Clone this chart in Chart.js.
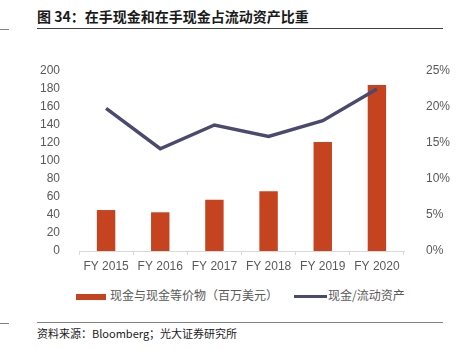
<!DOCTYPE html>
<html>
<head>
<meta charset="utf-8">
<script src="https://cdn.jsdelivr.net/npm/chart.js@4"></script>
<style>
  html, body { margin: 0; padding: 0; background: #fff; }
  #wrap { position: relative; width: 459px; height: 349px; overflow: hidden; font-family: "Noto Sans CJK SC", sans-serif; }
  .title { position: absolute; left: 37px; top: 6px; font-size: 14px; font-weight: bold; color: #1a1a1a; white-space: nowrap; }
  .rule { position: absolute; height: 0; }
  #chartBox { position: absolute; left: 0; top: 42px; width: 459px; height: 240px; }
  .legend { position: absolute; top: 286px; font-size: 12px; color: #595959; white-space: nowrap; }
  .source { position: absolute; left: 37px; top: 325px; font-size: 11px; color: #1a1a1a; white-space: nowrap; }
</style>
</head>
<body>
<div id="wrap">
  <div class="title">图 34：在手现金和在手现金占流动资产比重</div>
  <div class="rule" style="left:0;top:29px;width:9px;border-top:1px solid #7f7f7f;"></div>
  <div class="rule" style="left:37px;top:28px;width:406px;border-top:1.5px solid #404040;"></div>

  <div id="chartBox"><canvas id="cashChart"></canvas></div>

  <div class="legend" style="left:76px;">
    <span style="display:inline-block;width:30px;height:6px;background:#C5431F;vertical-align:middle;margin-right:4px;"></span>现金与现金等价物（百万美元）
  </div>
  <div class="legend" style="left:294px;">
    <span style="display:inline-block;width:33px;height:3px;background:#4A4A6E;vertical-align:middle;margin-right:1px;"></span>现金/流动资产
  </div>

  <div class="rule" style="left:0;top:323px;width:9px;border-top:1px solid #7f7f7f;"></div>
  <div class="rule" style="left:37px;top:322px;width:406px;border-top:1.5px solid #7f7f7f;"></div>
  <div class="source">资料来源：Bloomberg；光大证券研究所</div>
</div>

<script>
const years = ["FY 2015", "FY 2016", "FY 2017", "FY 2018", "FY 2019", "FY 2020"];
const cashValues = [45.5, 43, 57, 66.5, 121, 184.5];
const cashRatio = [0.198, 0.142, 0.175, 0.159, 0.181, 0.225];
const leftTicks = [0, 20, 40, 60, 80, 100, 120, 140, 160, 180, 200];
const rightTicks = [0, 0.05, 0.10, 0.15, 0.20, 0.25];

const tickFont = { family: "'Liberation Sans', Arial, sans-serif", size: 12 };
const tickColor = "#595959";

const canvas = document.getElementById("cashChart");
new Chart(canvas.getContext("2d"), {
    data: {
        labels: years,
        datasets: [
            {
                type: "line",
                label: "现金/流动资产",
                data: cashRatio,
                yAxisID: "y1",
                borderColor: "#4A4A6E",
                borderWidth: 3.5,
                pointRadius: 0,
                tension: 0,
                order: 0,
            },
            {
                type: "bar",
                label: "现金与现金等价物（百万美元）",
                data: cashValues,
                yAxisID: "y",
                backgroundColor: "#C5431F",
                categoryPercentage: 1,
                barPercentage: 0.34,
                order: 1,
            },
        ],
    },
    options: {
        responsive: true,
        maintainAspectRatio: false,
        animation: false,
        layout: { padding: { top: 29, left: 0, right: 0, bottom: 0 } },
        plugins: {
            legend: { display: false },
            tooltip: { enabled: false },
        },
        scales: {
            x: {
                offset: true,
                grid: {
                    display: true,
                    drawOnChartArea: false,
                    offset: true,
                    tickLength: 4,
                    color: "#d9d9d9",
                },
                border: { display: true, color: "#d9d9d9" },
                ticks: { color: tickColor, font: tickFont, padding: 4, maxRotation: 0 },
                afterFit: (axis) => { axis.height = 31; },
            },
            y: {
                position: "left",
                min: 0,
                max: 200,
                afterBuildTicks: (axis) => { axis.ticks = leftTicks.map((v) => ({ value: v })); },
                grid: { display: false },
                border: { display: false },
                ticks: { color: tickColor, font: tickFont, padding: 11 },
                afterFit: (axis) => { axis.width = 79; },
            },
            y1: {
                position: "right",
                min: 0,
                max: 0.25,
                afterBuildTicks: (axis) => { axis.ticks = rightTicks.map((v) => ({ value: v })); },
                grid: { display: false },
                border: { display: false },
                ticks: {
                    color: tickColor,
                    font: tickFont,
                    padding: 14,
                    callback: (v) => Math.round(v * 100) + "%",
                },
                afterFit: (axis) => { axis.width = 55; },
            },
        },
    },
});
</script>
</body>
</html>
